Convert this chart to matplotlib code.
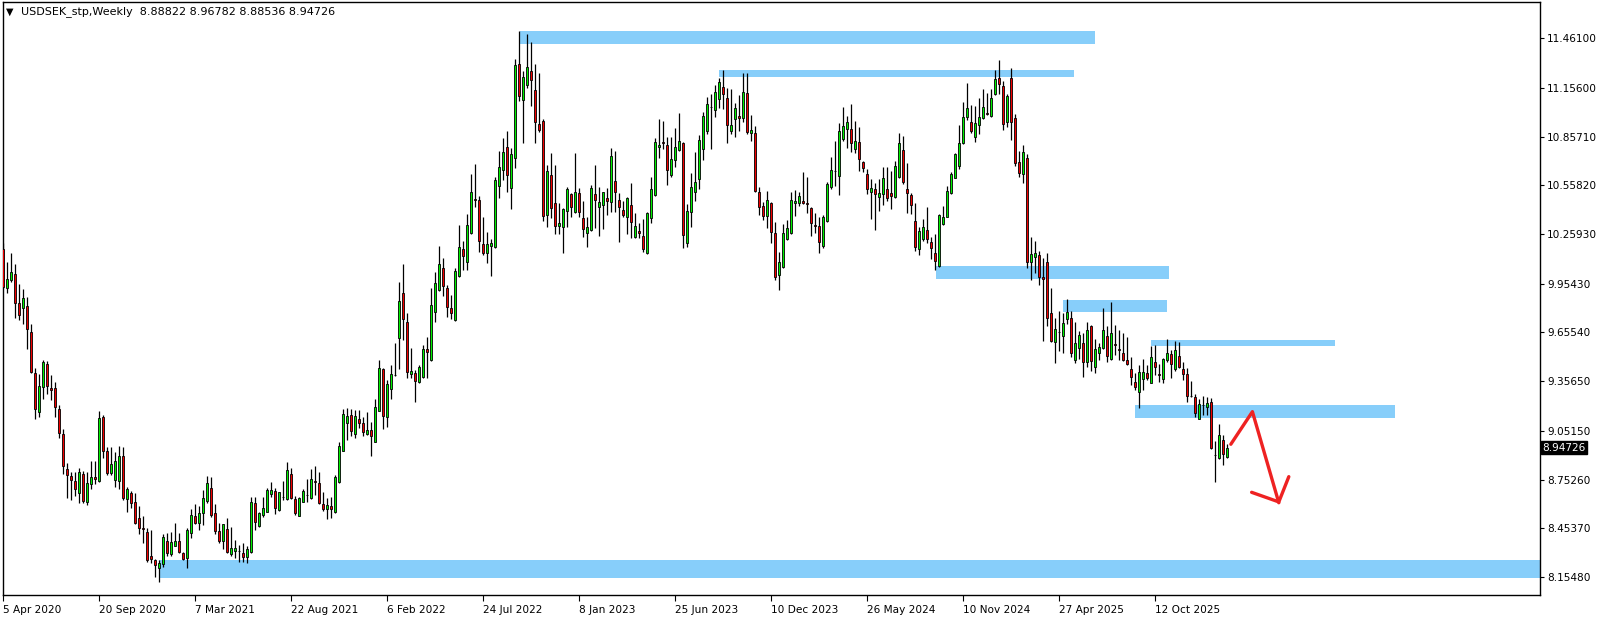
import numpy as np
import matplotlib.pyplot as plt
from matplotlib.transforms import blended_transform_factory


# weekly USDSEK candles, one entry per bar
opens = [
    10.166, 9.927, 9.978, 10.015, 9.835, 9.804, 9.818, 9.657, 9.405, 9.165,
    9.319, 9.460, 9.313, 9.313, 9.184, 9.030, 8.816, 8.773, 8.742, 8.672,
    8.785, 8.617, 8.724, 8.771, 8.744, 9.135, 8.926, 8.795, 8.748, 8.746,
    8.895, 8.631, 8.668, 8.613, 8.515, 8.455, 8.429, 8.284, 8.257, 8.208,
    8.233, 8.378, 8.294, 8.347, 8.378, 8.300, 8.273, 8.423, 8.529, 8.484,
    8.549, 8.622, 8.698, 8.545, 8.438, 8.377, 8.446, 8.293, 8.313, 8.313,
    8.299, 8.279, 8.309, 8.606, 8.469, 8.534, 8.555, 8.661, 8.682, 8.565,
    8.647, 8.631, 8.786, 8.633, 8.530, 8.616, 8.657, 8.637, 8.743, 8.729,
    8.600, 8.573, 8.590, 8.555, 8.739, 8.929, 9.101, 9.148, 9.034, 9.124,
    9.097, 9.034, 9.056, 8.985, 9.175, 9.431, 9.138, 9.310, 9.394, 9.619,
    9.895, 9.717, 9.398, 9.404, 9.353, 9.380, 9.554, 9.486, 9.783, 9.916,
    10.049, 9.926, 9.803, 9.732, 10.004, 10.165, 10.086, 10.264, 10.472, 10.466,
    10.196, 10.141, 10.188, 10.182, 10.556, 10.650, 10.791, 10.540, 10.724, 11.301,
    11.080, 11.172, 11.258, 11.141, 10.933, 10.953, 10.374, 10.620, 10.448, 10.307,
    10.304, 10.399, 10.503, 10.397, 10.509, 10.356, 10.264, 10.282, 10.503, 10.427,
    10.435, 10.479, 10.458, 10.585, 10.467, 10.405, 10.366, 10.438, 10.240, 10.278,
    10.248, 10.141, 10.356, 10.497, 10.792, 10.823, 10.804, 10.624, 10.714, 10.778,
    10.817, 10.203, 10.393, 10.516, 10.595, 10.780, 10.894, 11.042, 11.023, 11.087,
    11.162, 11.093, 10.894, 10.966, 10.982, 10.972, 11.125, 10.882, 10.878, 10.516,
    10.432, 10.370, 10.448, 10.264, 10.008, 10.055, 10.227, 10.264, 10.448, 10.448,
    10.463, 10.448, 10.418, 10.315, 10.309, 10.188, 10.340, 10.551, 10.647, 10.618,
    10.845, 10.904, 10.904, 10.782, 10.823, 10.700, 10.626, 10.516, 10.534, 10.489,
    10.503, 10.536, 10.510, 10.485, 10.612, 10.776, 10.534, 10.499, 10.338, 10.166,
    10.231, 10.282, 10.209, 10.141, 10.062, 10.319, 10.366, 10.514, 10.606, 10.677,
    10.817, 10.976, 10.945, 10.853, 10.927, 10.970, 11.005, 10.986, 11.117, 11.215,
    11.166, 10.949, 11.219, 10.970, 10.700, 10.626, 10.724, 10.086, 10.121, 10.131,
    9.996, 10.086, 9.773, 9.595, 9.660, 9.636, 9.736, 9.742, 9.486, 9.562,
    9.589, 9.472, 9.695, 9.445, 9.531, 9.558, 9.634, 9.490, 9.582, 9.552,
    9.527, 9.486, 9.431, 9.349, 9.292, 9.368, 9.408, 9.347, 9.472, 9.398,
    9.368, 9.486, 9.521, 9.429, 9.513, 9.429, 9.398, 9.267, 9.257, 9.126,
    9.210, 9.200, 9.226, 8.903, 8.887, 8.993, 8.88822,
]

highs = [
    10.207, 10.090, 10.141, 10.074, 9.951, 9.920, 9.871, 9.706, 9.440, 9.401,
    9.485, 9.483, 9.395, 9.350, 9.208, 9.061, 8.852, 8.801, 8.797, 8.822,
    8.807, 8.801, 8.869, 8.869, 9.172, 9.147, 8.955, 8.955, 8.920, 8.959,
    8.951, 8.709, 8.685, 8.672, 8.591, 8.529, 8.453, 8.443, 8.263, 8.259,
    8.417, 8.423, 8.433, 8.484, 8.427, 8.308, 8.453, 8.570, 8.601, 8.591,
    8.688, 8.774, 8.766, 8.602, 8.483, 8.480, 8.514, 8.459, 8.381, 8.350,
    8.361, 8.344, 8.643, 8.643, 8.555, 8.647, 8.698, 8.739, 8.698, 8.678,
    8.743, 8.860, 8.821, 8.653, 8.647, 8.696, 8.753, 8.817, 8.835, 8.798,
    8.674, 8.637, 8.643, 8.780, 8.980, 9.183, 9.189, 9.183, 9.179, 9.179,
    9.138, 9.165, 9.107, 9.244, 9.486, 9.439, 9.363, 9.455, 9.592, 9.967,
    10.075, 9.773, 9.558, 9.425, 9.456, 9.578, 9.625, 9.926, 10.028, 10.186,
    10.112, 9.947, 9.885, 10.049, 10.315, 10.216, 10.380, 10.628, 10.689, 10.493,
    10.364, 10.272, 10.231, 10.607, 10.769, 10.847, 10.892, 10.785, 11.332, 11.505,
    11.262, 11.487, 11.438, 11.303, 11.246, 10.965, 10.683, 10.755, 10.683, 10.452,
    10.417, 10.546, 10.509, 10.755, 10.540, 10.462, 10.362, 10.560, 10.681, 10.550,
    10.519, 10.544, 10.786, 10.769, 10.510, 10.465, 10.489, 10.575, 10.387, 10.330,
    10.350, 10.397, 10.612, 10.849, 10.964, 10.956, 10.853, 10.853, 10.913, 11.005,
    10.827, 10.444, 10.632, 10.763, 10.868, 11.011, 11.103, 11.119, 11.175, 11.215,
    11.267, 11.154, 11.148, 11.066, 11.113, 11.246, 11.246, 10.990, 10.923, 10.551,
    10.458, 10.524, 10.458, 10.332, 10.152, 10.321, 10.346, 10.520, 10.530, 10.520,
    10.639, 10.612, 10.428, 10.387, 10.366, 10.377, 10.581, 10.731, 10.831, 10.939,
    11.042, 10.984, 11.058, 10.954, 10.919, 10.708, 10.657, 10.598, 10.571, 10.598,
    10.673, 10.669, 10.647, 10.710, 10.878, 10.862, 10.694, 10.510, 10.448, 10.301,
    10.350, 10.428, 10.240, 10.258, 10.381, 10.434, 10.555, 10.643, 10.759, 10.929,
    11.072, 11.189, 11.052, 11.048, 11.097, 11.148, 11.127, 11.148, 11.267, 11.330,
    11.200, 11.119, 11.277, 10.994, 10.769, 10.806, 10.749, 10.243, 10.217, 10.155,
    10.110, 10.145, 9.930, 9.746, 9.787, 9.777, 9.861, 9.787, 9.722, 9.664,
    9.650, 9.722, 9.700, 9.613, 9.589, 9.808, 9.695, 9.840, 9.701, 9.670,
    9.650, 9.629, 9.507, 9.409, 9.456, 9.490, 9.456, 9.572, 9.578, 9.460,
    9.497, 9.613, 9.548, 9.603, 9.599, 9.472, 9.435, 9.359, 9.277, 9.247,
    9.265, 9.261, 9.251, 8.989, 9.093, 9.026, 8.96782,
]

lows = [
    9.927, 9.900, 9.968, 9.747, 9.732, 9.708, 9.552, 9.405, 9.127, 9.139,
    9.247, 9.278, 9.241, 9.139, 9.010, 8.787, 8.642, 8.627, 8.654, 8.611,
    8.611, 8.599, 8.693, 8.724, 8.740, 8.887, 8.781, 8.781, 8.705, 8.697,
    8.627, 8.556, 8.580, 8.480, 8.419, 8.361, 8.249, 8.239, 8.154, 8.124,
    8.218, 8.280, 8.284, 8.345, 8.300, 8.259, 8.208, 8.392, 8.478, 8.443,
    8.473, 8.610, 8.524, 8.418, 8.365, 8.324, 8.303, 8.283, 8.268, 8.248,
    8.248, 8.238, 8.299, 8.442, 8.463, 8.524, 8.555, 8.647, 8.541, 8.559,
    8.627, 8.627, 8.631, 8.534, 8.528, 8.612, 8.616, 8.631, 8.657, 8.602,
    8.561, 8.508, 8.514, 8.545, 8.729, 8.927, 8.995, 9.021, 9.009, 9.066,
    9.019, 9.025, 8.897, 8.983, 9.171, 9.062, 9.073, 9.246, 9.388, 9.431,
    9.609, 9.374, 9.374, 9.230, 9.347, 9.374, 9.374, 9.482, 9.721, 9.912,
    9.879, 9.752, 9.738, 9.728, 9.998, 10.038, 10.038, 10.260, 10.427, 10.151,
    10.131, 10.079, 10.004, 10.176, 10.482, 10.591, 10.517, 10.415, 10.667, 11.078,
    10.820, 11.154, 11.047, 10.816, 10.888, 10.341, 10.304, 10.356, 10.262, 10.262,
    10.145, 10.304, 10.366, 10.390, 10.366, 10.243, 10.182, 10.280, 10.294, 10.247,
    10.290, 10.377, 10.397, 10.397, 10.213, 10.366, 10.260, 10.233, 10.237, 10.233,
    10.152, 10.135, 10.325, 10.495, 10.724, 10.784, 10.563, 10.612, 10.673, 10.769,
    10.172, 10.178, 10.305, 10.463, 10.538, 10.714, 10.872, 10.784, 10.980, 11.031,
    11.025, 10.821, 10.874, 10.853, 10.894, 10.945, 10.874, 10.831, 10.520, 10.377,
    10.346, 10.295, 10.207, 9.978, 9.916, 10.049, 10.223, 10.260, 10.373, 10.434,
    10.442, 10.391, 10.250, 10.268, 10.145, 10.176, 10.336, 10.536, 10.555, 10.499,
    10.831, 10.786, 10.761, 10.759, 10.649, 10.638, 10.503, 10.352, 10.285, 10.403,
    10.438, 10.463, 10.413, 10.479, 10.602, 10.567, 10.387, 10.383, 10.158, 10.131,
    10.217, 10.207, 10.107, 10.039, 10.059, 10.315, 10.362, 10.505, 10.602, 10.657,
    10.810, 10.960, 10.882, 10.827, 10.874, 10.966, 10.990, 10.976, 11.113, 11.120,
    10.898, 10.919, 10.837, 10.679, 10.612, 10.575, 10.049, 9.977, 10.022, 9.947,
    9.603, 9.695, 9.599, 9.470, 9.544, 9.531, 9.705, 9.507, 9.470, 9.490,
    9.384, 9.441, 9.421, 9.404, 9.486, 9.552, 9.476, 9.486, 9.517, 9.486,
    9.480, 9.456, 9.333, 9.302, 9.194, 9.302, 9.363, 9.343, 9.394, 9.353,
    9.343, 9.476, 9.374, 9.421, 9.435, 9.363, 9.231, 9.261, 9.138, 9.124,
    9.149, 9.149, 8.942, 8.739, 8.881, 8.844, 8.88536,
]

closes = [
    9.937, 9.982, 10.029, 9.839, 9.765, 9.865, 9.675, 9.413, 9.184, 9.327,
    9.472, 9.329, 9.305, 9.196, 9.037, 8.838, 8.783, 8.752, 8.693, 8.797,
    8.623, 8.734, 8.771, 8.754, 9.129, 8.926, 8.791, 8.846, 8.865, 8.895,
    8.642, 8.693, 8.611, 8.488, 8.453, 8.451, 8.257, 8.263, 8.226, 8.239,
    8.398, 8.300, 8.368, 8.374, 8.306, 8.267, 8.443, 8.533, 8.484, 8.546,
    8.637, 8.729, 8.534, 8.438, 8.377, 8.477, 8.309, 8.330, 8.330, 8.312,
    8.275, 8.324, 8.612, 8.494, 8.545, 8.575, 8.688, 8.688, 8.579, 8.674,
    8.645, 8.809, 8.637, 8.549, 8.637, 8.682, 8.655, 8.755, 8.735, 8.606,
    8.573, 8.594, 8.573, 8.766, 8.958, 9.154, 9.142, 9.050, 9.142, 9.101,
    9.046, 9.056, 9.021, 9.195, 9.435, 9.144, 9.336, 9.400, 9.396, 9.848,
    9.740, 9.415, 9.419, 9.359, 9.445, 9.554, 9.537, 9.824, 9.957, 10.073,
    9.942, 9.813, 9.772, 10.032, 10.178, 10.126, 10.313, 10.515, 10.470, 10.219,
    10.145, 10.196, 10.202, 10.589, 10.669, 10.761, 10.620, 10.748, 11.295, 11.104,
    11.225, 11.282, 11.203, 10.949, 10.900, 10.372, 10.644, 10.417, 10.311, 10.325,
    10.413, 10.534, 10.427, 10.519, 10.397, 10.288, 10.300, 10.540, 10.466, 10.454,
    10.515, 10.461, 10.739, 10.516, 10.428, 10.379, 10.483, 10.332, 10.309, 10.264,
    10.166, 10.387, 10.536, 10.823, 10.806, 10.821, 10.651, 10.718, 10.792, 10.831,
    10.252, 10.399, 10.548, 10.577, 10.837, 10.984, 11.058, 11.040, 11.130, 11.191,
    11.117, 10.927, 10.929, 11.031, 10.970, 11.130, 10.888, 10.896, 10.524, 10.428,
    10.373, 10.469, 10.270, 9.998, 10.088, 10.264, 10.295, 10.469, 10.463, 10.493,
    10.448, 10.446, 10.325, 10.307, 10.213, 10.362, 10.565, 10.653, 10.645, 10.892,
    10.923, 10.947, 10.817, 10.831, 10.718, 10.667, 10.534, 10.540, 10.503, 10.510,
    10.602, 10.479, 10.495, 10.677, 10.817, 10.577, 10.514, 10.436, 10.178, 10.278,
    10.301, 10.227, 10.172, 10.092, 10.375, 10.366, 10.524, 10.626, 10.749, 10.817,
    10.980, 11.035, 10.894, 10.939, 10.980, 11.042, 10.997, 11.097, 11.211, 11.183,
    10.932, 11.109, 10.949, 10.694, 10.632, 10.765, 10.090, 10.135, 10.141, 9.998,
    9.981, 9.746, 9.605, 9.675, 9.658, 9.711, 9.779, 9.527, 9.589, 9.640,
    9.476, 9.670, 9.482, 9.552, 9.564, 9.670, 9.513, 9.650, 9.580, 9.550,
    9.486, 9.460, 9.384, 9.323, 9.411, 9.411, 9.374, 9.503, 9.441, 9.396,
    9.490, 9.527, 9.460, 9.548, 9.441, 9.398, 9.267, 9.265, 9.159, 9.214,
    9.208, 9.220, 8.948, 8.901, 9.024, 8.911, 8.94726,
]

# x axis labels (every 24 bars)
date_labels = ["5 Apr 2020", "20 Sep 2020", "7 Mar 2021", "22 Aug 2021",
               "6 Feb 2022", "24 Jul 2022", "8 Jan 2023", "25 Jun 2023",
               "10 Dec 2023", "26 May 2024", "10 Nov 2024", "27 Apr 2025",
               "12 Oct 2025"]
date_bars = [0, 24, 48, 72, 96, 120, 144, 168, 192, 216, 240, 264, 288]

price_ticks = [11.461, 11.156, 10.8571, 10.5582, 10.2593, 9.9543,
               9.6554, 9.3565, 9.0515, 8.7526, 8.4537, 8.1548]

# blue support / resistance zones: start bar, end bar, top, bottom
zone_start = [129.2, 179.0, 233.3, 265.0, 287.0, 283.0, 39.0]
zone_end = [273.0, 267.8, 291.6, 291.0, 333.0, 348.0, 400.0]
zone_top = [11.506, 11.266, 10.063, 9.854, 9.609, 9.212, 8.259]
zone_bottom = [11.426, 11.225, 9.983, 9.781, 9.572, 9.130, 8.150]

# hand drawn red arrow
arrow_x = [307.0, 312.4, 319.0]
arrow_y = [8.969, 9.169, 8.610]
head_x = [312.2, 319.0, 321.5]
head_y = [8.674, 8.615, 8.770]

last_price = closes[-1]

W, H = 1604, 619
fig = plt.figure(figsize=(W / 100, H / 100), dpi=100)
ax = fig.add_axes([2.5 / W, 1 - 595 / H, (1540 - 2.5) / W, 593 / H])

o = np.array(opens)
h = np.array(highs)
l = np.array(lows)
c = np.array(closes)
x = np.arange(len(o))

for xs, xe, top, bot in zip(zone_start, zone_end, zone_top, zone_bottom):
    ax.fill_between([xs, xe], bot, top, color='#87cefa', linewidth=0, zorder=1)

ax.vlines(x, l, h, color='black', linewidth=0.9, zorder=2)

up = c >= o
body_bottom = np.minimum(o, c)
body_height = np.maximum(np.abs(c - o), 0.001)
colors = np.where(up, '#00f000', '#f00000')
ax.bar(x, body_height, bottom=body_bottom, width=0.62, color=colors,
       edgecolor='black', linewidth=0.6, zorder=3)

ax.plot(arrow_x, arrow_y, color='#ee2222', linewidth=2.4,
        solid_capstyle='round', solid_joinstyle='round', zorder=4)
ax.plot(head_x, head_y, color='#ee2222', linewidth=2.4,
        solid_capstyle='round', solid_joinstyle='round', zorder=4)

ax.set_xlim(-0.1, 384.3)
ax.set_ylim(8.0436, 11.684)

ax.yaxis.tick_right()
ax.set_yticks(price_ticks)
ax.set_yticklabels([f"{v:.5f}" for v in price_ticks])
ax.set_xticks(date_bars)
ax.set_xticklabels(date_labels, ha='left')
ax.tick_params(axis='y', direction='out', length=3, width=0.8, pad=2,
               labelsize=7.6, colors='black')
ax.tick_params(axis='x', direction='out', length=4, width=0.8, pad=3,
               labelsize=7.6, colors='black')
for sp in ax.spines.values():
    sp.set_linewidth(1.0)
    sp.set_color('black')

# current price tag on the right axis
trans = blended_transform_factory(ax.transAxes, ax.transData)
ax.text(1.0015, last_price, f"{last_price:.5f}", transform=trans,
        color='white', fontsize=7.6, va='center', ha='left',
        bbox=dict(boxstyle='square,pad=0.15', fc='black', ec='black'))

fig.text(6 / W, 1 - 12 / H, "\u25bc", fontsize=7, va='center')
fig.text(21 / W, 1 - 12 / H,
         "USDSEK_stp,Weekly  8.88822 8.96782 8.88536 8.94726",
         fontsize=8, va='center')

fig.savefig("out.png", dpi=100)
